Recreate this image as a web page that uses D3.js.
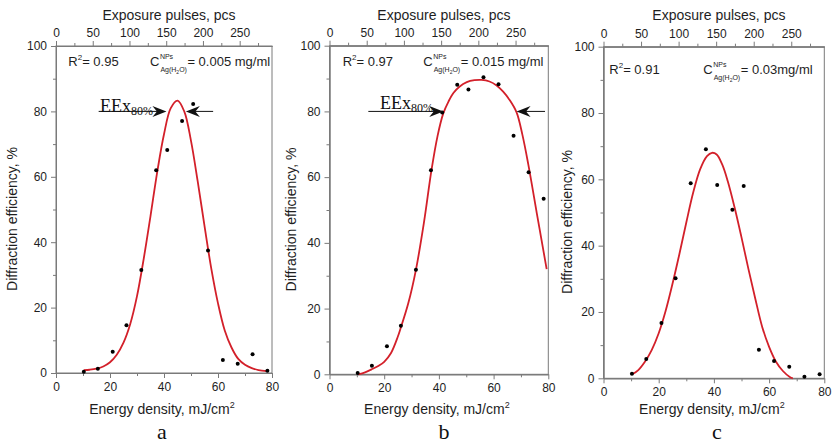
<!DOCTYPE html>
<html><head><meta charset="utf-8">
<script src="https://cdn.jsdelivr.net/npm/d3@7/dist/d3.min.js"></script>
<style>body{margin:0;background:#fff} svg{display:block}</style>
</head><body><svg id="chart" width="833" height="444"></svg>
<script>
// ---------- DATA ----------
const energy = [10.3, 15.5, 21.0, 26.1, 31.6, 37.1, 41.2, 46.7, 50.8, 56.3, 61.8, 67.3, 72.8, 78.3];
const effA = [0.4, 1.3, 6.5, 14.6, 31.5, 62.0, 68.2, 77.1, 82.3, 37.5, 4.0, 2.8, 5.7, 0.7];
const effB = [0.4, 2.6, 8.5, 14.8, 31.8, 62.1, 79.7, 88.1, 86.7, 90.4, 88.3, 72.6, 61.5, 53.4];
const effC = [1.4, 5.8, 16.7, 30.2, 58.8, 69.1, 58.3, 50.8, 58.0, 8.6, 5.2, 3.5, 0.5, 1.2];

const fitXA = [10.3,12.5,15,17.5,20,22.5,25,27.5,30,32.5,35,37.5,40,42.5,45,47.5,50,52.5,55,57.5,60,62.5,65,67.5,70,72.5,75,78];
const fitYA = [0.9,1.0,1.3,2.0,3.3,5.6,9.3,15,23.5,35,48,61.5,73,81,83.3,80,71,58.5,45,32,21.3,13,7.8,4.3,2.5,1.5,0.9,0.6];
const fitXB = [10.5,13,15.4,18,20,22.5,25,26,28.8,31.6,34.5,37.3,39.5,41.6,43.5,45.3,47.5,50.2,53,55.6,58.5,61.1,63.5,66,68.4,70.5,72.7,75.8,77.5,79.4];
const fitYB = [0,0.6,1.5,2.6,3.8,6.5,11.5,14,21.6,31.8,46,62.2,72.5,79.4,83,85.6,87.5,88.9,89.5,89.6,89.1,87.9,86.0,83.3,79.7,73.0,63.8,49,41,32];
const fitXC = [10.4,12.5,15,17.5,20,22.5,25,27.5,30,32.5,35,37.5,39.3,41,43,45,47.5,50,52.5,55,57.5,60,62.5,65,67.5,68.6];
const fitYC = [1.2,2.4,5,8.6,13.6,20.3,28.5,37.5,47,56,63,67,68,67.5,64.5,59.5,51.5,42.5,33,24,15.5,9.5,5,2.2,0.4,0];

const energyTicks = [0, 20, 40, 60, 80];
const energyMinor = [10, 30, 50, 70];
const effTicks = [0, 20, 40, 60, 80, 100];
const effMinor = [10, 30, 50, 70, 90];
const pulseTicks = [0, 50, 100, 150, 200, 250];
const pulseMinor = [25, 75, 125, 175, 225, 275];
const pulseMax = 294;

const r2Values = ["0.95", "0.97", "0.91"];
const concValues = ["= 0.005 mg/ml", "= 0.015 mg/ml", "= 0.03mg/ml"];
const panelLetters = ["a", "b", "c"];
// EEx80% arrows: [start energy, tip energy] at efficiency level 80
const eexArrowsA = [[15.8, 40.9], [58.2, 48.1]];
const eexArrowsB = [[14.2, 41.6], [78.8, 68.4]];

const series = [
  {pts: effA, fx: fitXA, fy: fitYA, arrows: eexArrowsA},
  {pts: effB, fx: fitXB, fy: fitYB, arrows: eexArrowsB},
  {pts: effC, fx: fitXC, fy: fitYC, arrows: null}
];

// ---------- LAYOUT / STYLE ----------
const layout = [
  {left:56, right:272, top:46, bottom:373, yLabX:17, xLabY:414, letterX:162,
   r2:[68.3,66], c:[150,66], eex:[100,111.5]},
  {left:329.5, right:548.3, top:45.7, bottom:374.3, yLabX:296, xLabY:414, letterX:444,
   r2:[342.7,65.5], c:[423.3,65.5], eex:[380,108.5]},
  {left:603.5, right:824.3, top:46.7, bottom:378.3, yLabX:571.5, xLabY:414, letterX:717,
   r2:[609.3,73.5], c:[703.3,73.5], eex:null}
];
const SANS = "'Liberation Sans', Arial, sans-serif";
const SERIF = "'Liberation Serif', 'Times New Roman', serif";
const AXIS = "#7a7a7a";
const TXT = "#1e1e1e";
const RED = "#d3202a";

const svg = d3.select("#chart");

function styleAxis(sel, fs) {
  sel.selectAll(".domain").attr("stroke", AXIS);
  sel.selectAll(".tick line").attr("stroke", AXIS);
  sel.selectAll(".tick text").attr("fill", TXT).attr("font-family", SANS).attr("font-size", fs);
}

series.forEach((s, i) => {
  const L = layout[i];
  const x = d3.scaleLinear().domain([0, 80]).range([L.left, L.right]);
  const xt = d3.scaleLinear().domain([0, pulseMax]).range([L.left, L.right]);
  const y = d3.scaleLinear().domain([0, 100]).range([L.bottom, L.top]);
  const g = svg.append("g");

  // frame
  g.append("rect").attr("x", L.left).attr("y", L.top)
    .attr("width", L.right - L.left).attr("height", L.bottom - L.top)
    .attr("fill", "none").attr("stroke", AXIS).attr("stroke-width", 1);

  // bottom axis
  g.append("g").attr("transform", `translate(0,${L.bottom})`)
    .call(d3.axisBottom(x).tickValues(energyTicks).tickSize(5).tickSizeOuter(0).tickPadding(4).tickFormat(d3.format("d")))
    .call(a => styleAxis(a, 12));
  g.append("g").attr("transform", `translate(0,${L.bottom})`)
    .call(d3.axisBottom(x).tickValues(energyMinor).tickSize(3).tickSizeOuter(0).tickFormat(""))
    .call(a => styleAxis(a, 12));
  // left axis
  g.append("g").attr("transform", `translate(${L.left},0)`)
    .call(d3.axisLeft(y).tickValues(effTicks).tickSize(5).tickSizeOuter(0).tickPadding(4).tickFormat(d3.format("d")))
    .call(a => styleAxis(a, 12));
  g.append("g").attr("transform", `translate(${L.left},0)`)
    .call(d3.axisLeft(y).tickValues(effMinor).tickSize(3).tickSizeOuter(0).tickFormat(""))
    .call(a => styleAxis(a, 12));
  // top axis
  g.append("g").attr("transform", `translate(0,${L.top})`)
    .call(d3.axisTop(xt).tickValues(pulseTicks).tickSize(5).tickSizeOuter(0).tickPadding(4).tickFormat(d3.format("d")))
    .call(a => styleAxis(a, 12));
  g.append("g").attr("transform", `translate(0,${L.top})`)
    .call(d3.axisTop(xt).tickValues(pulseMinor).tickSize(3).tickSizeOuter(0).tickFormat(""))
    .call(a => styleAxis(a, 12));

  // axis titles
  const cx = (L.left + L.right) / 2;
  g.append("text").attr("x", cx + 5).attr("y", 20).attr("text-anchor", "middle")
    .attr("font-family", SANS).attr("font-size", 14).attr("fill", TXT).text("Exposure pulses, pcs");
  const xl = g.append("text").attr("x", cx - 2).attr("y", L.xLabY).attr("text-anchor", "middle")
    .attr("font-family", SANS).attr("font-size", 14).attr("fill", TXT);
  xl.append("tspan").text("Energy density, mJ/cm");
  xl.append("tspan").attr("font-size", 9).attr("dy", -6).text("2");
  const cy = (L.top + L.bottom) / 2 + 9.5;
  g.append("text").attr("transform", `translate(${L.yLabX},${cy}) rotate(-90)`).attr("text-anchor", "middle")
    .attr("font-family", SANS).attr("font-size", 14).attr("fill", TXT).text("Diffraction efficiency, %");

  // panel letter
  g.append("text").attr("x", L.letterX).attr("y", 439).attr("text-anchor", "middle")
    .attr("font-family", SERIF).attr("font-size", 22).attr("fill", "#111").text(panelLetters[i]);

  // fit curve
  const fit = s.fx.map((e, k) => [e, s.fy[k]]);
  g.append("path").datum(fit).attr("fill", "none").attr("stroke", RED).attr("stroke-width", 1.8)
    .attr("d", d3.line().x(d => x(d[0])).y(d => y(d[1])).curve(d3.curveCatmullRom.alpha(0.5)));

  // points
  g.selectAll("circle.pt").data(energy.map((e, k) => [e, s.pts[k]])).enter().append("circle")
    .attr("class", "pt").attr("cx", d => x(d[0])).attr("cy", d => y(d[1])).attr("r", 2).attr("fill", "#000");

  // R^2 annotation
  const r = g.append("text").attr("x", L.r2[0]).attr("y", L.r2[1]).attr("font-family", SANS)
    .attr("font-size", 13).attr("fill", TXT);
  r.append("tspan").text("R");
  r.append("tspan").attr("font-size", 8).attr("dy", -6).text("2");
  r.append("tspan").attr("dy", 6).text("= " + r2Values[i]);

  // concentration annotation
  const cT = g.append("text").attr("x", L.c[0]).attr("y", L.c[1]).attr("font-family", SANS)
    .attr("font-size", 13).attr("fill", TXT).text("C");
  const cw = cT.node().getComputedTextLength();
  g.append("text").attr("x", L.c[0] + cw + 0.5).attr("y", L.c[1] - 7).attr("font-family", SANS)
    .attr("font-size", 7).attr("fill", TXT).text("NPs");
  const sub = g.append("text").attr("x", L.c[0] + cw + 1).attr("y", L.c[1] + 6).attr("font-family", SANS)
    .attr("font-size", 7).attr("fill", TXT);
  sub.append("tspan").text("Ag(H");
  sub.append("tspan").attr("font-size", 5).attr("dy", 2).text("2");
  sub.append("tspan").attr("dy", -2).text("O)");
  const sw = sub.node().getComputedTextLength();
  g.append("text").attr("x", L.c[0] + cw + 1 + sw + 0.5).attr("y", L.c[1]).attr("font-family", SANS)
    .attr("font-size", 13).attr("fill", TXT).text(concValues[i]);

  // EEx80% annotation
  if (s.arrows && L.eex) {
    const t = g.append("text").attr("x", L.eex[0]).attr("y", L.eex[1]).attr("font-family", SERIF)
      .attr("font-size", 18).attr("fill", "#111");
    t.append("tspan").text("EEx");
    t.append("tspan").attr("font-size", 12).attr("dy", 3.5).text("80%");
    s.arrows.forEach(([e0, e1]) => {
      const x0 = x(e0), x1 = x(e1), yy = y(80);
      const dir = Math.sign(x1 - x0);
      g.append("line").attr("x1", x0).attr("y1", yy).attr("x2", x1 - dir * 8).attr("y2", yy)
        .attr("stroke", "#111").attr("stroke-width", 1);
      g.append("path").attr("fill", "#111")
        .attr("d", `M${x1},${yy} L${x1 - dir * 14},${yy - 5.5} L${x1 - dir * 9.5},${yy} L${x1 - dir * 14},${yy + 5.5} Z`);
    });
  }
});
</script></body></html>
